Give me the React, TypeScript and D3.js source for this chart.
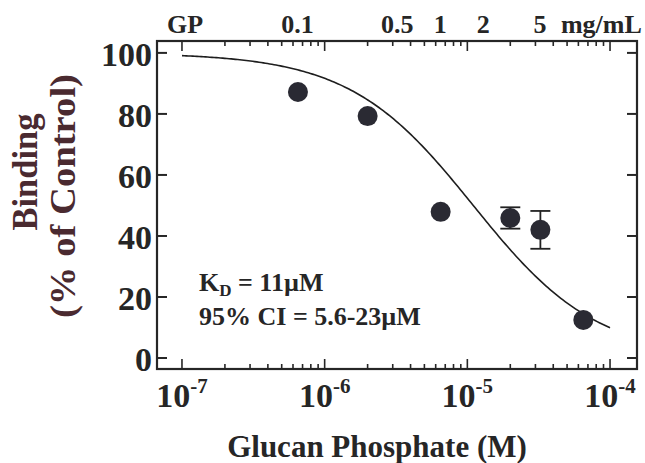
import React from 'react';
import * as d3 from 'd3';

// Data
const concM = [6.5e-7, 2.0e-6, 6.5e-6, 2.0e-5, 3.25e-5, 6.5e-5];
const binding = [87.2, 79.3, 47.9, 45.9, 42.0, 12.5];
const errBar = [0, 0, 0, 3.5, 6.2, 0];
const yTicks = [0, 20, 40, 60, 80, 100];
const xDecades = [-7, -6, -5, -4];
const topMgLabels = ['0.1', '0.5', '1', '2', '5'];
const topMgValues = [0.1, 0.5, 1, 2, 5];
const KD = 11e-6; // M
const MW = 155000; // g/mol, used for mg/mL top axis

const W = 645;
const H = 463;
const left = 157, right = 637, top = 41, bottom = 369;
const serif = '"Liberation Serif", "DejaVu Serif", "Noto Serif", serif';
const ink = '#262626';

export default function App() {
  const x = d3.scaleLog().domain([10 ** -7.175, 10 ** -3.811]).range([left, right]);
  const y = d3.scaleLinear().domain([-3.6, 103.9]).range([bottom, top]);

  const ticks: { v: number; major: boolean }[] = [];
  for (let d = -7; d <= -4; d++) {
    for (let k = 1; k <= 9; k++) {
      const v = k * 10 ** d;
      if (d === -4 && k > 1) break;
      ticks.push({ v, major: k === 1 });
    }
  }

  const curveX = d3.range(0, 201).map(i => 10 ** (-7 + (3 * i) / 200));
  const line = d3
    .line<number>()
    .x(v => x(v))
    .y(v => y(100 / (1 + v / KD)));

  const ts = { fontFamily: serif, fontWeight: 'bold' as const };

  return (
    <svg
      width={W}
      height={H}
      style={{ position: 'absolute', left: 0, top: 0, background: '#fff', fontFamily: serif, fontWeight: 'bold' }}
    >
      <rect x={left} y={top} width={right - left} height={bottom - top} fill="none" stroke={ink} strokeWidth={2.2} />

      {ticks.map((t, i) => (
        <g key={i}>
          <line x1={x(t.v)} x2={x(t.v)} y1={bottom} y2={bottom - (t.major ? 10 : 5)} stroke={ink} strokeWidth={1.6} />
          <line x1={x(t.v)} x2={x(t.v)} y1={top} y2={top + (t.major ? 10 : 5)} stroke={ink} strokeWidth={1.6} />
        </g>
      ))}

      {yTicks.map(v => (
        <g key={v}>
          <line x1={left} x2={left + 10} y1={y(v)} y2={y(v)} stroke={ink} strokeWidth={2} />
          <line x1={right} x2={right - 10} y1={y(v)} y2={y(v)} stroke={ink} strokeWidth={2} />
          <text x={left - 5} y={y(v) + 13} textAnchor="end" fontSize={34} fill={ink} style={ts}>
            {v}
          </text>
        </g>
      ))}

      {xDecades.map(d => (
        <text key={d} x={x(10 ** d)} y={407} textAnchor="middle" fontSize={34} fill={ink} style={ts}>
          10
          <tspan fontSize={21} dy={-14}>{d}</tspan>
        </text>
      ))}

      <text x={x(1e-7) + 3} y={33} textAnchor="middle" fontSize={26} fill={ink} style={ts}>GP</text>
      {topMgValues.map((m, i) => (
        <text key={i} x={x(m / MW)} y={33} textAnchor="middle" fontSize={26} fill={ink} style={ts}>
          {topMgLabels[i]}
        </text>
      ))}
      <text x={x(5 / MW) + 21} y={33} textAnchor="start" fontSize={26} fill={ink} style={ts}>mg/mL</text>

      <path d={line(curveX) || ''} fill="none" stroke="#1e1e1e" strokeWidth={1.6} />

      {concM.map((c, i) =>
        errBar[i] > 0 ? (
          <g key={'e' + i} stroke="#222" strokeWidth={1.8}>
            <line x1={x(c)} x2={x(c)} y1={y(binding[i] - errBar[i])} y2={y(binding[i] + errBar[i])} />
            <line x1={x(c) - 10} x2={x(c) + 10} y1={y(binding[i] - errBar[i])} y2={y(binding[i] - errBar[i])} />
            <line x1={x(c) - 10} x2={x(c) + 10} y1={y(binding[i] + errBar[i])} y2={y(binding[i] + errBar[i])} />
          </g>
        ) : null
      )}

      {concM.map((c, i) => (
        <circle key={'p' + i} cx={x(c)} cy={y(binding[i])} r={10} fill="#2a2a33" />
      ))}

      <text x={left + 42} y={291} fontSize={26} fill={ink} style={ts}>
        K<tspan fontSize={17} dy={5}>D</tspan>
        <tspan dy={-5}> = 11µM</tspan>
      </text>
      <text x={left + 42} y={325} fontSize={26} fill={ink} style={ts}>95% CI = 5.6-23µM</text>

      <text x={377} y={457} textAnchor="middle" fontSize={31} fill={ink} style={ts}>Glucan Phosphate (M)</text>
      <text transform="translate(37,172) rotate(-90)" textAnchor="middle" fontSize={35} fill="#4a2a30" style={ts}
        textLength={117} lengthAdjust="spacingAndGlyphs">Binding</text>
      <text transform="translate(75,196) rotate(-90)" textAnchor="middle" fontSize={35} fill="#4a2a30" style={ts}
        textLength={244} lengthAdjust="spacingAndGlyphs">(% of Control)</text>
    </svg>
  );
}
